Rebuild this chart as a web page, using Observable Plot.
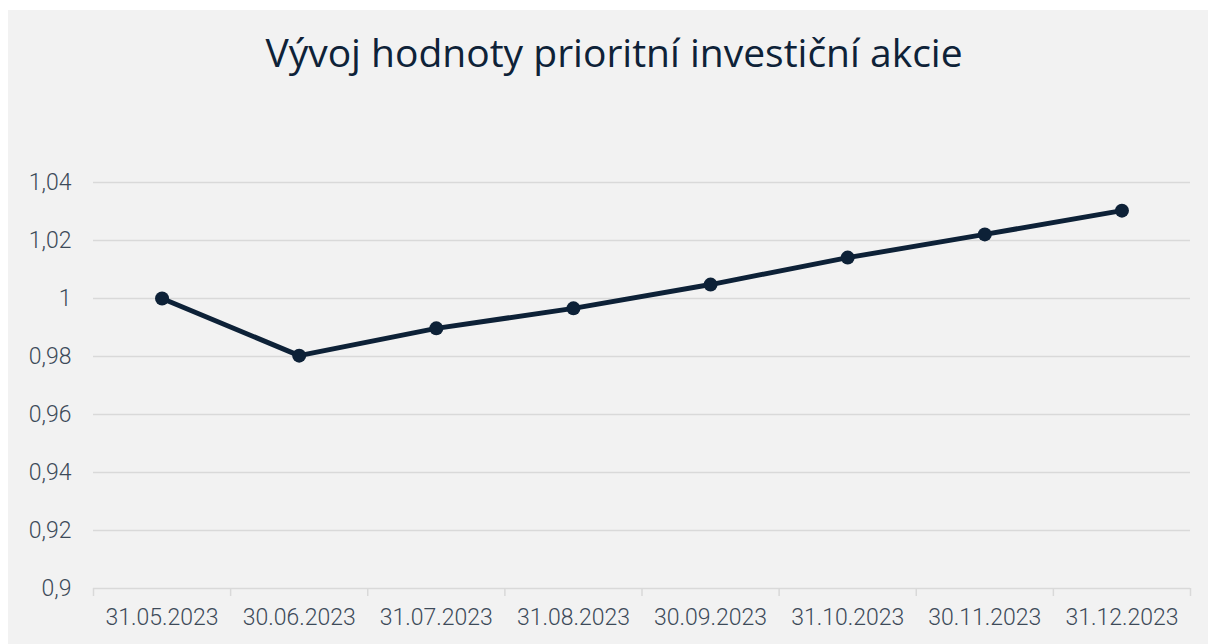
<!DOCTYPE html>
<html>
<head>
<meta charset="utf-8">
<script src="https://cdn.jsdelivr.net/npm/d3@7"></script>
<script src="https://cdn.jsdelivr.net/npm/@observablehq/plot@0.6"></script>
<style>
  html, body { margin: 0; padding: 0; background: #ffffff; }
  #panel { position: absolute; left: 8px; top: 10px; width: 1200px; height: 634px; background: #f2f2f2; overflow: hidden; }
  #title { position: absolute; left: 0; top: 22px; width: 1212px; text-align: center; font-family: "Open Sans", sans-serif; font-size: 39px; font-weight: 400; color: #0e2238; line-height: 1; }
  #chart { position: absolute; left: 0; top: 90px; }
</style>
</head>
<body>
<div id="panel">
  <div id="title">Vývoj hodnoty prioritní investiční akcie</div>
  <div id="chart"></div>
</div>
<script>
const dates = ["31.05.2023", "30.06.2023", "31.07.2023", "31.08.2023", "30.09.2023", "31.10.2023", "30.11.2023", "31.12.2023"];
const values = [1.0000, 0.9803, 0.9897, 0.9966, 1.0048, 1.0141, 1.0221, 1.0303];
const yTicks = [0.9, 0.92, 0.94, 0.96, 0.98, 1.0, 1.02, 1.04];

const data = dates.map((d, i) => ({pos: i + 0.5, date: d, value: values[i]}));
const boundaries = d3.range(dates.length + 1);
const fmt = v => (v === 1 ? "1" : d3.format(".2f")(v).replace(/0$/, "").replace(".", ","));

const ink = "#0d2137";
const grid = "#d9d9d9";
const labelColor = "#3d4a59";

const chart = Plot.plot({
  width: 1200,
  height: 544,
  marginTop: 82,
  marginBottom: 56,
  marginLeft: 85,
  marginRight: 18,
  style: {background: "transparent", fontFamily: "Roboto, sans-serif", fontWeight: 300, fontSize: "23px", color: labelColor},
  x: {domain: [0, dates.length], axis: null},
  y: {domain: [0.9, 1.04], axis: null},
  marks: [
    Plot.gridY(yTicks, {stroke: grid, strokeOpacity: 1, strokeWidth: 1.5}),
    Plot.axisX(boundaries, {tickSize: 8, stroke: grid, strokeWidth: 1.5, tickFormat: () => "", anchor: "bottom", label: null}),
    Plot.axisX(data.map(d => d.pos), {tickSize: 0, tickPadding: 20, tickFormat: (v, i) => dates[i], fill: labelColor, fontSize: 23, anchor: "bottom", label: null}),
    Plot.axisY(yTicks, {tickSize: 0, tickPadding: 22, tickFormat: fmt, fill: labelColor, fontSize: 23, anchor: "left", label: null}),
    Plot.line(data, {x: "pos", y: "value", stroke: ink, strokeWidth: 5}),
    Plot.dot(data, {x: "pos", y: "value", r: 7, fill: ink, stroke: "none"})
  ]
});
document.getElementById("chart").appendChild(chart);
</script>
</body>
</html>
